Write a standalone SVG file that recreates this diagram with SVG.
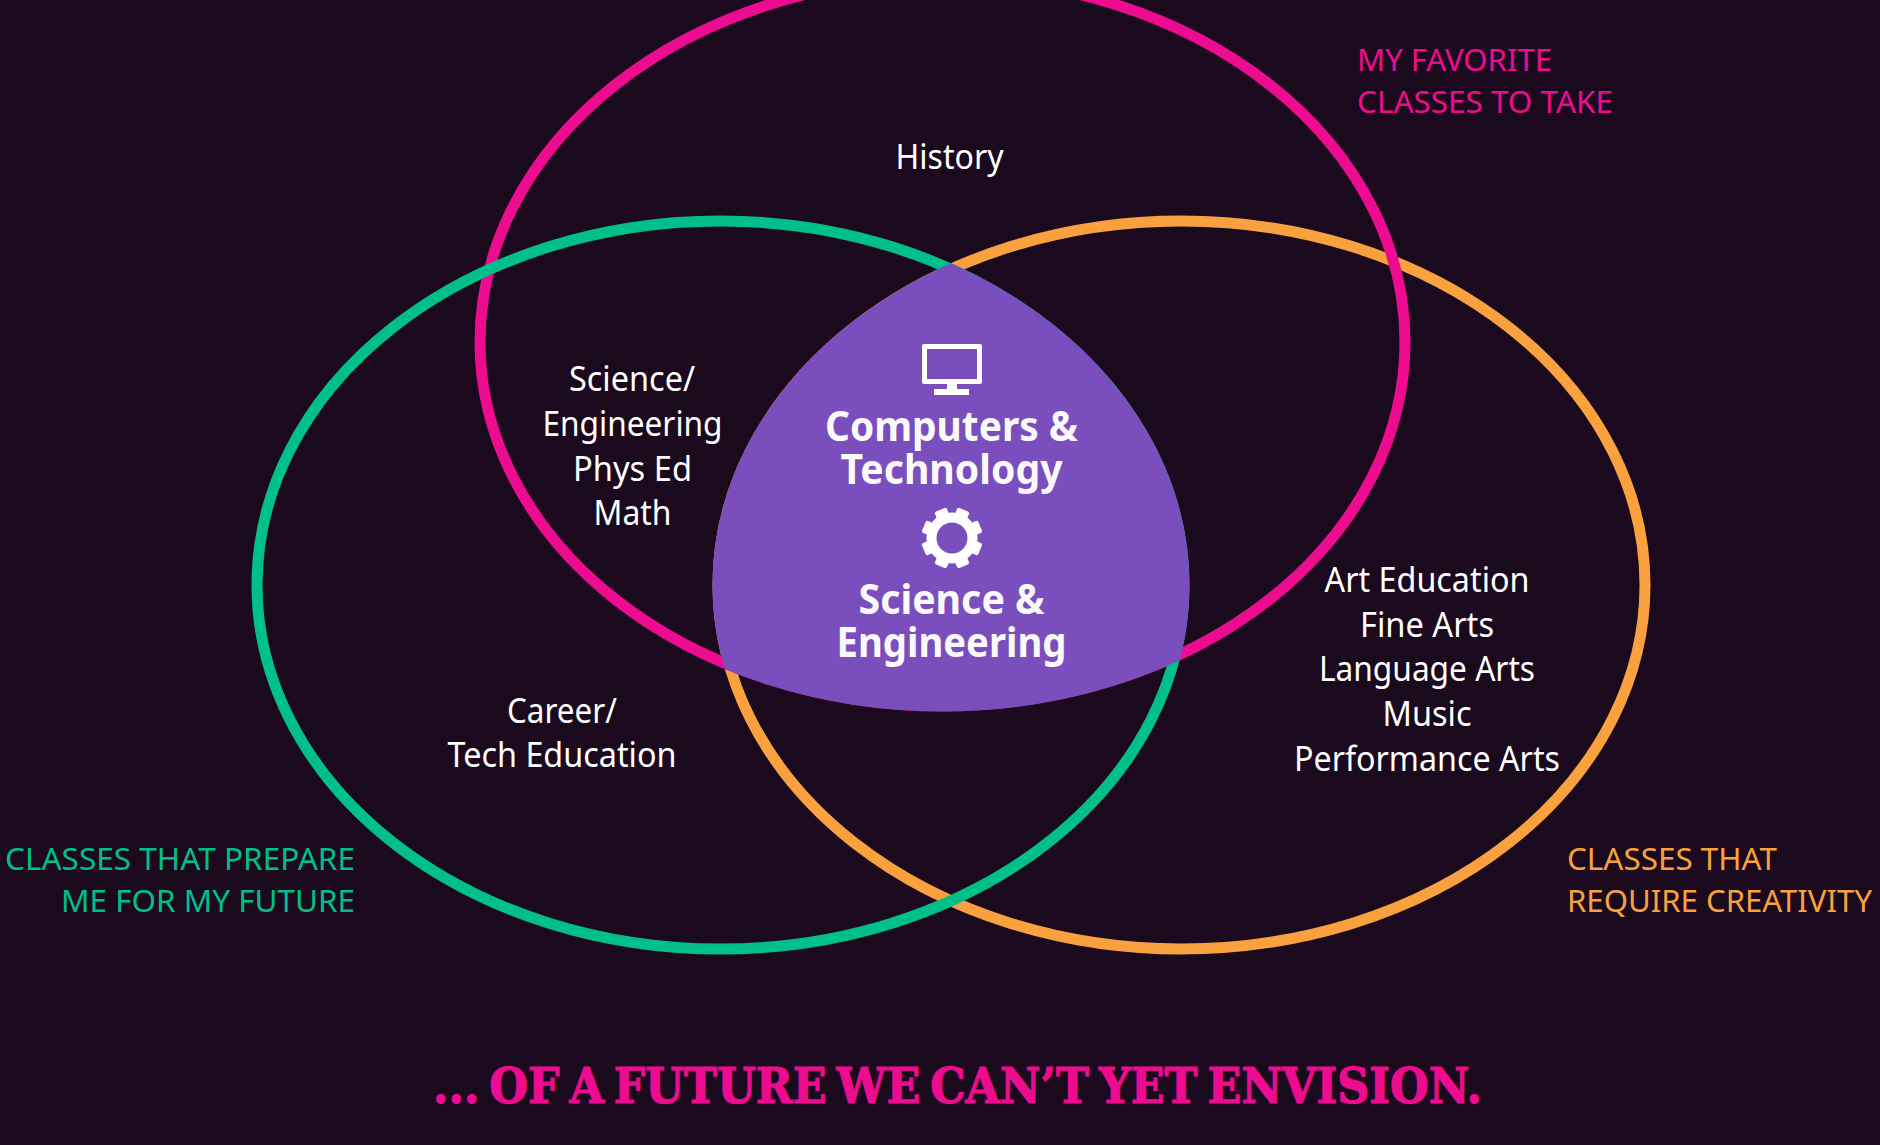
<svg xmlns="http://www.w3.org/2000/svg" width="1880" height="1145" viewBox="0 0 1880 1145">
<style>
text{font-family:"Noto Sans","Open Sans",sans-serif}
.b{font-size:34px;fill:#fff;text-anchor:middle}
.h{font-size:41px;font-weight:700;fill:#fafafc;text-anchor:middle}
.l{font-size:31px}
.ring{fill:none;stroke-width:11}
.icon{fill:#fff}
</style>
<defs>
<clipPath id="cg"><ellipse cx="720.5" cy="585" rx="469" ry="369.5"/></clipPath>
<clipPath id="co" clip-path="url(#cg)"><ellipse cx="1181.5" cy="585" rx="469" ry="369.5"/></clipPath>
<rect id="tooth" x="-6.5" y="-30.5" width="13" height="9" rx="2"/>
</defs>
<rect width="1880" height="1145" fill="#1b0a1e"/>
<g id="connectors">
<ellipse class="ring" cx="1181.5" cy="585" rx="463.5" ry="364" stroke="#f9a13e"/>
<ellipse class="ring" cx="942.5" cy="342" rx="462.5" ry="364" stroke="#ed0c8f"/>
<ellipse class="ring" cx="720.5" cy="585" rx="463.5" ry="364" stroke="#00bf8a"/>
</g>
<g id="center" clip-path="url(#co)"><ellipse cx="942.5" cy="342" rx="468" ry="369.5" fill="#7a4fbd"/></g>
<g id="center-labels">
<path class="icon" fill-rule="evenodd" d="M924 344H980Q982 344 982 346V382Q982 384 980 384H957V389H969V395H934V389H947V384H924Q922 384 922 382V346Q922 344 924 344ZM927 349V379H977V349Z"/>
<g id="gear" transform="translate(952 538)">
<circle r="20.5" fill="none" stroke="#fff" stroke-width="10"/>
<g class="icon">
<use href="#tooth" transform="rotate(22.5)"/>
<use href="#tooth" transform="rotate(67.5)"/>
<use href="#tooth" transform="rotate(112.5)"/>
<use href="#tooth" transform="rotate(157.5)"/>
<use href="#tooth" transform="rotate(202.5)"/>
<use href="#tooth" transform="rotate(247.5)"/>
<use href="#tooth" transform="rotate(292.5)"/>
<use href="#tooth" transform="rotate(337.5)"/>
</g>
</g>
<text class="h" x="951.5" y="441" textLength="253" lengthAdjust="spacingAndGlyphs">Computers &amp;</text>
<text class="h" x="951.5" y="484" textLength="222" lengthAdjust="spacingAndGlyphs">Technology</text>
<text class="h" x="951.5" y="614" textLength="186" lengthAdjust="spacingAndGlyphs">Science &amp;</text>
<text class="h" x="951.5" y="657" textLength="230" lengthAdjust="spacingAndGlyphs">Engineering</text>
</g>
<g id="history"><text class="b" x="949.5" y="169" textLength="108" lengthAdjust="spacingAndGlyphs">History</text></g>
<g id="pink-green">
<text class="b" x="632" y="391" textLength="126" lengthAdjust="spacingAndGlyphs">Science/</text>
<text class="b" x="632.5" y="436" textLength="180" lengthAdjust="spacingAndGlyphs">Engineering</text>
<text class="b" x="632.5" y="481" textLength="119" lengthAdjust="spacingAndGlyphs">Phys Ed</text>
<text class="b" x="632.5" y="525" textLength="78" lengthAdjust="spacingAndGlyphs">Math</text>
</g>
<g id="career">
<text class="b" x="562" y="723" textLength="110" lengthAdjust="spacingAndGlyphs">Career/</text>
<text class="b" x="562" y="767" textLength="229" lengthAdjust="spacingAndGlyphs">Tech Education</text>
</g>
<g id="arts">
<text class="b" x="1427" y="592" textLength="205" lengthAdjust="spacingAndGlyphs">Art Education</text>
<text class="b" x="1427" y="637" textLength="134" lengthAdjust="spacingAndGlyphs">Fine Arts</text>
<text class="b" x="1427" y="681" textLength="216" lengthAdjust="spacingAndGlyphs">Language Arts</text>
<text class="b" x="1427" y="726" textLength="89" lengthAdjust="spacingAndGlyphs">Music</text>
<text class="b" x="1427" y="771" textLength="266" lengthAdjust="spacingAndGlyphs">Performance Arts</text>
</g>
<g id="label-pink" fill="#ed0c8f">
<text class="l" x="1357" y="71" textLength="195" lengthAdjust="spacingAndGlyphs">MY FAVORITE</text>
<text class="l" x="1357" y="113" textLength="256" lengthAdjust="spacingAndGlyphs">CLASSES TO TAKE</text>
</g>
<g id="label-green" fill="#00bf8a" text-anchor="end">
<text class="l" x="355" y="870" textLength="350" lengthAdjust="spacingAndGlyphs">CLASSES THAT PREPARE</text>
<text class="l" x="355" y="912" textLength="294" lengthAdjust="spacingAndGlyphs">ME FOR MY FUTURE</text>
</g>
<g id="label-orange" fill="#f9a13e">
<text class="l" x="1567" y="870" textLength="210" lengthAdjust="spacingAndGlyphs">CLASSES THAT</text>
<text class="l" x="1567" y="912" textLength="305" lengthAdjust="spacingAndGlyphs">REQUIRE CREATIVITY</text>
</g>
<g id="title"><text x="433" y="1103" textLength="1049" lengthAdjust="spacingAndGlyphs" style="font-family:'DejaVu Serif',serif;font-weight:700;font-size:48px;stroke:#ed0c8f;stroke-width:1.2;word-spacing:-6px" fill="#ed0c8f">... OF A FUTURE WE CAN’T YET ENVISION.</text></g>
</svg>
